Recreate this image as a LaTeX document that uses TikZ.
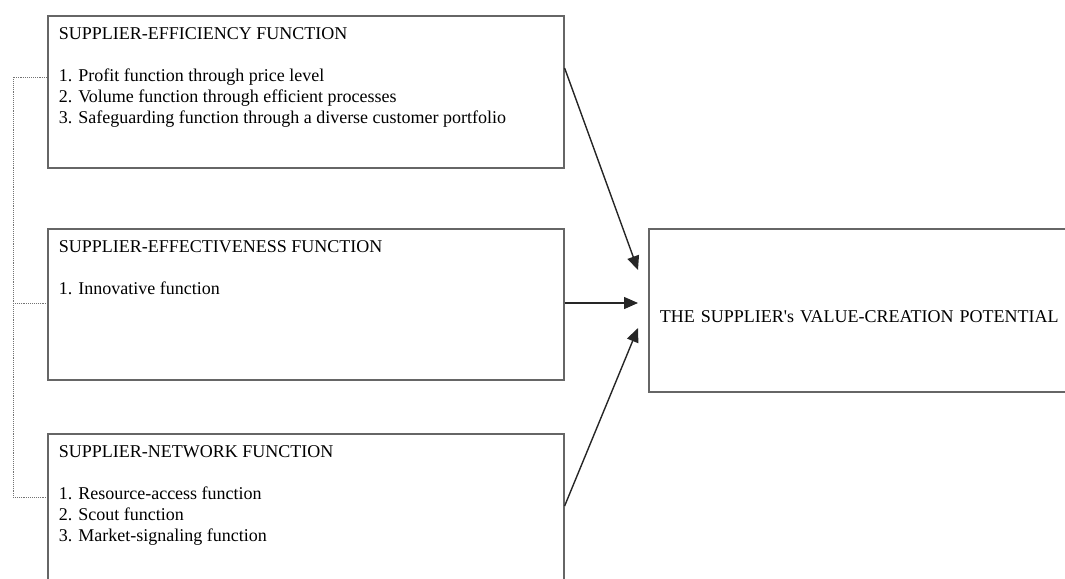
\documentclass[tikz,border=0pt]{standalone}
\usepackage{fontspec}
\setmainfont{Liberation Serif}
\usetikzlibrary{arrows.meta,positioning}
\tikzset{
  fnbox/.style={draw=black!60, line width=1.6pt, anchor=north west,
    inner xsep=11pt, inner ysep=12pt, font=\fontsize{18}{21}\selectfont},
  link/.style={-{Triangle[length=14pt,width=12pt]}, line width=1.4pt, black!85},
  tie/.style={black!55, line width=0.9pt, densely dotted}
}
\newcommand{\boxtext}[2]{\parbox[c][#1][t]{494pt}{\raggedright #2}}

\begin{document}
\begin{tikzpicture}[x=1pt,y=-1pt]
  \useasboundingbox (0,0) rectangle (1065,578);
  \clip (0,0) rectangle (1065,578);

  % Function boxes
  \node[fnbox] (eff) at (47,15) {\boxtext{128pt}{SUPPLIER-EFFICIENCY FUNCTION\\[\baselineskip]
    1. Profit function through price level\\
    2. Volume function through efficient processes\\
    3. Safeguarding function through a diverse customer portfolio}};
  \node[fnbox] (effv) at (47,228) {\boxtext{127pt}{SUPPLIER-EFFECTIVENESS FUNCTION\\[\baselineskip]
    1. Innovative function}};
  \node[fnbox] (net) at (47,433) {\boxtext{160pt}{SUPPLIER-NETWORK FUNCTION\\[\baselineskip]
    1. Resource-access function\\
    2. Scout function\\
    3. Market-signaling function}};

  % Value box
  \node[fnbox, inner ysep=0pt, text width=478pt, minimum height=163pt, align=left,
    text height=24pt, text depth=0pt]
    (val) at (648,228) {THE SUPPLIER\textquotesingle s VALUE-CREATION POTENTIAL};

  % Dotted rail on the left
  \coordinate (r1) at (13,77);
  \coordinate (r2) at (13,303);
  \coordinate (r3) at (13,497);
  \draw[tie] (eff.west |- r1) -- (r1) -- (r3) -- (net.west |- r3);
  \draw[tie] (r2) -- (effv.west |- r2);

  % Arrows
  \coordinate (t1) at (638,270);
  \coordinate (t2) at (638,303);
  \coordinate (t3) at (638,328);
  \draw[link] (eff.east |- 0,68) -- (t1);
  \draw[link] (effv.east |- t2) -- (t2);
  \draw[link] (net.east |- 0,506) -- (t3);
\end{tikzpicture}
\end{document}
